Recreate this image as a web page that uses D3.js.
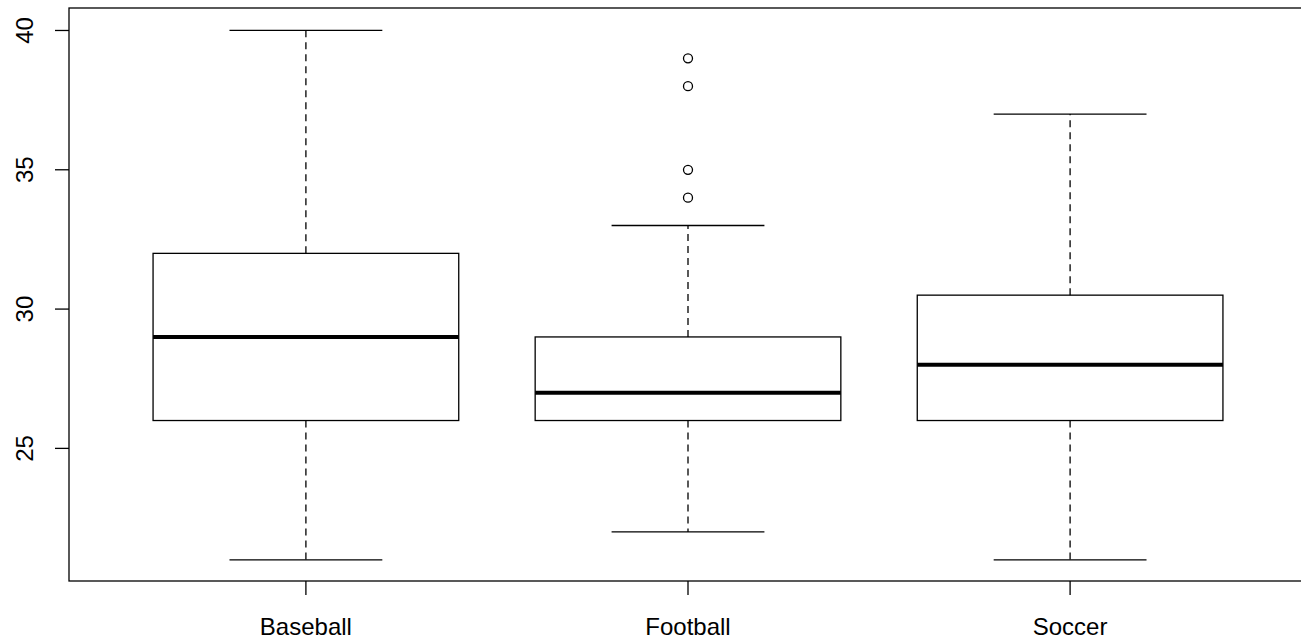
<!DOCTYPE html>
<html>
<head>
<meta charset="utf-8">
<script src="https://cdn.jsdelivr.net/npm/d3@7"></script>
<style>
  html, body { margin: 0; padding: 0; background: #fff; overflow: hidden; }
  svg text { font-family: "Liberation Sans", Arial, sans-serif; fill: #000; }
</style>
</head>
<body>
<svg id="chart" width="1301" height="641"></svg>
<script>
// box statistics
const sports = ["Baseball", "Football", "Soccer"];
const lowerWhisker = [21, 22, 21];
const q1 = [26, 26, 26];
const median = [29, 27, 28];
const q3 = [32, 29, 30.5];
const upperWhisker = [40, 33, 37];
const outliers = [[], [39, 38, 35, 34], []];
const yTicks = [25, 30, 35, 40];

const svg = d3.select("#chart");

// R style 4% extension of the ranges
const x = d3.scaleLinear().domain([0.38, 3.62]).range([69, 1307]);
const y = d3.scaleLinear().domain([20.24, 40.76]).range([581, 9.3]);
const boxHalf = 0.4;

const boxes = sports.map((name, i) => ({
    name, pos: i + 1,
    lo: lowerWhisker[i], q1: q1[i], med: median[i], q3: q3[i], hi: upperWhisker[i],
    out: outliers[i]
}));

const g = svg.selectAll("g.box").data(boxes).enter().append("g").attr("class", "box");

// dashed whiskers
g.append("line")
    .attr("x1", d => x(d.pos)).attr("x2", d => x(d.pos))
    .attr("y1", d => y(d.q3)).attr("y2", d => y(d.hi))
    .attr("stroke", "#000").attr("stroke-width", 1.3).attr("stroke-dasharray", "7,5");
g.append("line")
    .attr("x1", d => x(d.pos)).attr("x2", d => x(d.pos))
    .attr("y1", d => y(d.q1)).attr("y2", d => y(d.lo))
    .attr("stroke", "#000").attr("stroke-width", 1.3).attr("stroke-dasharray", "7,5");

// whisker caps
["lo", "hi"].forEach(k => {
    g.append("line")
        .attr("x1", d => x(d.pos - boxHalf / 2)).attr("x2", d => x(d.pos + boxHalf / 2))
        .attr("y1", d => y(d[k])).attr("y2", d => y(d[k]))
        .attr("stroke", "#000").attr("stroke-width", 1.3);
});

// box
g.append("rect")
    .attr("x", d => x(d.pos - boxHalf))
    .attr("width", d => x(d.pos + boxHalf) - x(d.pos - boxHalf))
    .attr("y", d => y(d.q3))
    .attr("height", d => y(d.q1) - y(d.q3))
    .attr("fill", "none").attr("stroke", "#000").attr("stroke-width", 1.3);

// median
g.append("line")
    .attr("x1", d => x(d.pos - boxHalf)).attr("x2", d => x(d.pos + boxHalf))
    .attr("y1", d => y(d.med)).attr("y2", d => y(d.med))
    .attr("stroke", "#000").attr("stroke-width", 4);

// outliers
g.selectAll("circle").data(d => d.out.map(v => ({ pos: d.pos, v }))).enter().append("circle")
    .attr("cx", d => x(d.pos)).attr("cy", d => y(d.v)).attr("r", 4.5)
    .attr("fill", "none").attr("stroke", "#000").attr("stroke-width", 1.3);

// plot frame
svg.append("rect")
    .attr("x", x.range()[0]).attr("y", 8)
    .attr("width", x.range()[1] - x.range()[0]).attr("height", 581 - 8)
    .attr("fill", "none").attr("stroke", "#000").attr("stroke-width", 1.3);

// y axis
const yAxis = svg.append("g");
yAxis.selectAll("line").data(yTicks).enter().append("line")
    .attr("x1", 55).attr("x2", 69)
    .attr("y1", d => y(d)).attr("y2", d => y(d))
    .attr("stroke", "#000").attr("stroke-width", 1.3);
yAxis.selectAll("text").data(yTicks).enter().append("text")
    .attr("transform", d => `translate(33,${y(d)}) rotate(-90)`)
    .attr("text-anchor", "middle")
    .attr("font-size", 24)
    .text(d => d);

// x axis
const xAxis = svg.append("g");
xAxis.selectAll("line").data(boxes).enter().append("line")
    .attr("x1", d => x(d.pos)).attr("x2", d => x(d.pos))
    .attr("y1", 581).attr("y2", 595)
    .attr("stroke", "#000").attr("stroke-width", 1.3);
xAxis.selectAll("text").data(boxes).enter().append("text")
    .attr("x", d => x(d.pos)).attr("y", 635)
    .attr("text-anchor", "middle")
    .attr("font-size", 24)
    .text(d => d.name);
</script>
</body>
</html>
